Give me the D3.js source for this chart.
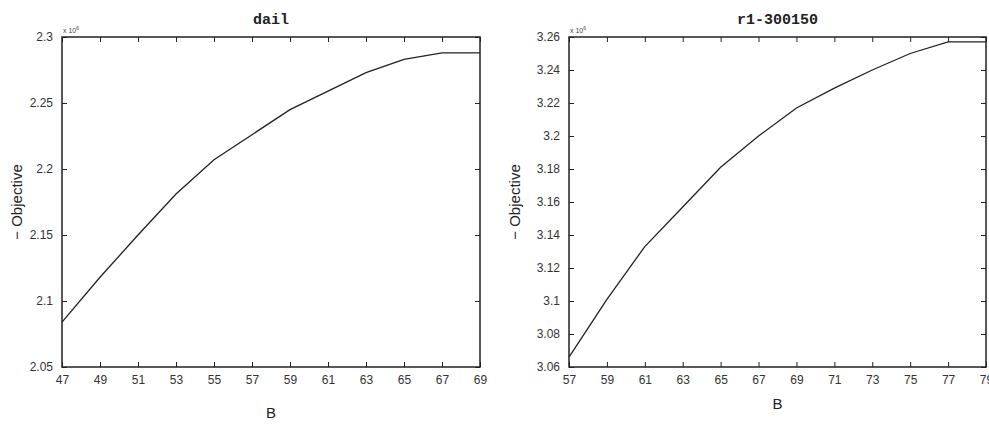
<!DOCTYPE html>
<html>
<head>
<meta charset="utf-8">
<script src="https://cdn.jsdelivr.net/npm/d3@7.9.0/dist/d3.min.js"></script>
<style>
  body { margin: 0; background: #fff; }
  svg { display: block; }
  .tick text { font-family: "Liberation Sans", Arial, sans-serif; font-size: 12px; fill: #333; }
  .lbl { font-family: "Liberation Sans", Arial, sans-serif; font-size: 15px; fill: #222; }
  .ttl { font-family: "Liberation Mono", "Courier New", monospace; font-size: 15px; font-weight: bold; fill: #222; }
  .mult { font-family: "Liberation Sans", Arial, sans-serif; font-size: 7px; fill: #444; }
</style>
</head>
<body>
<svg id="chart" width="989" height="426"></svg>
<script>
// left panel: dail
const daiB = [47, 49, 51, 53, 55, 57, 59, 61, 63, 65, 67, 69];
const daiObj = [2.084, 2.118, 2.150, 2.181, 2.207, 2.226, 2.245, 2.259, 2.273, 2.283, 2.288, 2.288];
const daiYTicks = [2.05, 2.1, 2.15, 2.2, 2.25, 2.3];

// right panel: r1-300150
const r1B = [57, 59, 61, 63, 65, 67, 69, 71, 73, 75, 77, 79];
const r1Obj = [3.066, 3.101, 3.133, 3.157, 3.181, 3.200, 3.217, 3.229, 3.240, 3.250, 3.257, 3.257];
const r1YTicks = [3.06, 3.08, 3.1, 3.12, 3.14, 3.16, 3.18, 3.2, 3.22, 3.24, 3.26];

const svg = d3.select("#chart");

// draws one matlab-style boxed panel
function drawPanel(opts) {
    const { left, right, top, bottom, xs, ys, yTicks, title, xLabelY, yLabelX } = opts;

    const x = d3.scaleLinear().domain([xs[0], xs[xs.length - 1]]).range([left, right]);
    const y = d3.scaleLinear().domain([yTicks[0], yTicks[yTicks.length - 1]]).range([bottom, top]);
    const fmt = d => String(+d.toFixed(2));
    const tk = 5;

    const g = svg.append("g");

    // inward ticks on all four sides
    g.append("g").attr("transform", `translate(0,${bottom})`)
        .call(d3.axisBottom(x).tickValues(xs).tickFormat(d3.format("d")).tickSizeInner(-tk).tickSizeOuter(0).tickPadding(8));
    g.append("g").attr("transform", `translate(0,${top})`)
        .call(d3.axisTop(x).tickValues(xs).tickFormat("").tickSizeInner(-tk).tickSizeOuter(0));
    g.append("g").attr("transform", `translate(${left},0)`)
        .call(d3.axisLeft(y).tickValues(yTicks).tickFormat(fmt).tickSizeInner(-tk).tickSizeOuter(0).tickPadding(9));
    g.append("g").attr("transform", `translate(${right},0)`)
        .call(d3.axisRight(y).tickValues(yTicks).tickFormat("").tickSizeInner(-tk).tickSizeOuter(0));

    g.selectAll(".domain").remove();
    g.selectAll(".tick line").attr("stroke", "#222").attr("stroke-width", 1);

    // box
    g.append("rect")
        .attr("x", left).attr("y", top)
        .attr("width", right - left).attr("height", bottom - top)
        .attr("fill", "none").attr("stroke", "#222").attr("stroke-width", 1.5);

    // data line
    const line = d3.line().x((d, i) => x(xs[i])).y(d => y(d));
    g.append("path")
        .datum(ys)
        .attr("d", line)
        .attr("fill", "none")
        .attr("stroke", "#222")
        .attr("stroke-width", 1.3);

    // multiplier
    const m = g.append("text").attr("class", "mult").attr("x", left + 1).attr("y", top - 4);
    m.append("tspan").text("x 10");
    m.append("tspan").attr("dy", -3).attr("font-size", 5).text("6");

    // title
    g.append("text").attr("class", "ttl")
        .attr("x", (left + right) / 2).attr("y", 24)
        .attr("text-anchor", "middle").text(title);

    // x label
    g.append("text").attr("class", "lbl")
        .attr("x", (left + right) / 2).attr("y", xLabelY)
        .attr("text-anchor", "middle").text("B");

    // y label
    g.append("text").attr("class", "lbl")
        .attr("transform", `translate(${yLabelX},${(top + bottom) / 2}) rotate(-90)`)
        .attr("text-anchor", "middle").text("\u2212 Objective");
}

drawPanel({ left: 62, right: 480, top: 37, bottom: 367, xs: daiB, ys: daiObj, yTicks: daiYTicks, title: "dail", xLabelY: 418, yLabelX: 22 });
drawPanel({ left: 569, right: 986, top: 37, bottom: 367, xs: r1B, ys: r1Obj, yTicks: r1YTicks, title: "r1-300150", xLabelY: 409, yLabelX: 520 });
</script>
</body>
</html>
